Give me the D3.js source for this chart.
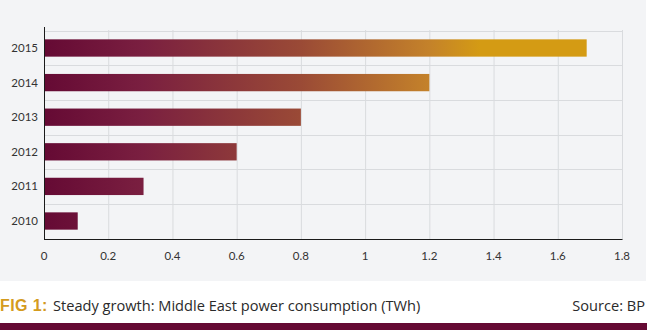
<!DOCTYPE html>
<html><head><meta charset="utf-8">
<script src="https://cdn.jsdelivr.net/npm/d3@7"></script>
<style>html,body{margin:0;padding:0;background:#fff;}svg{display:block;}</style>
</head><body>
<svg id="c" width="653" height="335"></svg>
<script>
const years = ["2015","2014","2013","2012","2011","2010"];
const values = [1.69, 1.20, 0.80, 0.60, 0.31, 0.105];
const xTicks = [0,0.2,0.4,0.6,0.8,1,1.2,1.4,1.6,1.8];
const tickLabels = ["0","0.2","0.4","0.6","0.8","1","1.2","1.4","1.6","1.8"];
const captionBold = "FIG 1:";
const captionText = "Steady growth: Middle East power consumption (TWh)";
const sourceText = "Source: BP";

const svg = d3.select("#c");
const font = "Lato, 'Open Sans', sans-serif";
const capFont = "'Open Sans', Lato, sans-serif";
const L = 44, R = 622, T = 30, B = 239;

svg.append("rect").attr("x",0).attr("y",0).attr("width",646).attr("height",281).attr("fill","#f3f4f6");

const x = d3.scaleLinear().domain([0,1.8]).range([L,R]);
const y = d3.scaleBand().domain(years).range([T,B]).paddingInner(0.5).paddingOuter(0.27);

const defs = svg.append("defs");
const g = defs.append("linearGradient").attr("id","bg").attr("gradientUnits","userSpaceOnUse")
  .attr("x1",x(0)).attr("x2",x(1.8)).attr("y1",0).attr("y2",0);
[[0,"#650a34"],[0.17,"#7a1f40"],[0.444,"#9a4a36"],[0.667,"#c4822a"],[0.755,"#d49b14"],[1,"#d49b14"]]
  .forEach(s=>g.append("stop").attr("offset",s[0]).attr("stop-color",s[1]));

// vertical gridlines
svg.append("g").selectAll("line").data(xTicks.slice(1)).join("line")
  .attr("x1",d=>x(d)+0.5).attr("x2",d=>x(d)+0.5).attr("y1",T).attr("y2",B)
  .attr("stroke","#d9dbde").attr("stroke-width",1);
// horizontal gridlines at band boundaries
const step = y.step();
const bounds = d3.range(years.length).map(i=>y(years[i]) - step*0.25);
bounds.push(B);
svg.append("g").selectAll("line").data(bounds).join("line")
  .attr("x1",L).attr("x2",R+0.5).attr("y1",d=>Math.round(d)+0.5).attr("y2",d=>Math.round(d)+0.5)
  .attr("stroke","#d9dbde").attr("stroke-width",1);

// bars
svg.append("g").selectAll("rect").data(values).join("rect")
  .attr("x",x(0)).attr("y",(d,i)=>y(years[i]))
  .attr("width",d=>x(d)-x(0)).attr("height",y.bandwidth())
  .attr("fill","url(#bg)");

// axes lines
svg.append("line").attr("x1",L+0.5).attr("x2",L+0.5).attr("y1",27).attr("y2",B+0.5).attr("stroke","#1a1a1a");
svg.append("line").attr("x1",L).attr("x2",R+0.5).attr("y1",B+0.5).attr("y2",B+0.5).attr("stroke","#1a1a1a");

// x tick labels
svg.append("g").selectAll("text").data(xTicks).join("text")
  .attr("x",d=>x(d)).attr("y",260).attr("text-anchor","middle")
  .attr("font-family",font).attr("font-size",11.5).attr("fill","#333")
  .text((d,i)=>tickLabels[i]);

// y labels
svg.append("g").selectAll("text").data(years).join("text")
  .attr("x",38).attr("y",d=>y(d)+y.bandwidth()/2+4).attr("text-anchor","end")
  .attr("font-family",font).attr("font-size",11.5).attr("fill","#333")
  .text(d=>d);

// caption
svg.append("text").attr("x",0).attr("y",311).attr("font-family","Arial, 'Liberation Sans', sans-serif")
  .attr("font-size",16).attr("font-weight","bold").attr("letter-spacing",0.4).attr("fill","#d49b1e").text(captionBold);
svg.append("text").attr("x",53).attr("y",311).attr("font-family",capFont)
  .attr("font-size",14.6).attr("fill","#2a2a2a").text(captionText);
svg.append("text").attr("x",645).attr("y",311).attr("text-anchor","end")
  .attr("font-family",capFont).attr("font-size",14.6).attr("fill","#2a2a2a").text(sourceText);

svg.append("rect").attr("x",0).attr("y",323).attr("width",647).attr("height",7).attr("fill","#650a34");
</script>
</body></html>
